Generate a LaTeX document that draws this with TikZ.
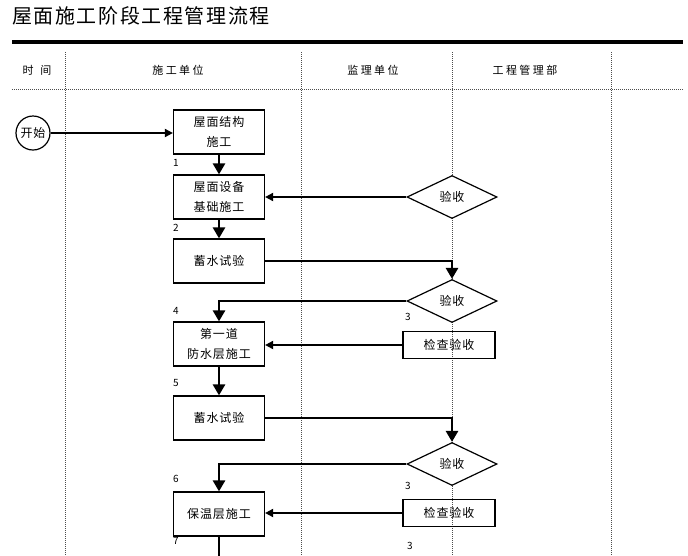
\documentclass[tikz,border=0pt]{standalone}
\usepackage{fontspec}
\setmainfont{Noto Sans CJK SC}
\newfontfamily\spacedfont[LetterSpace=8]{Noto Sans CJK SC}
\newfontfamily\headfont[LetterSpace=22]{Noto Sans CJK SC}
\usetikzlibrary{shapes.geometric, arrows.meta}

\begin{document}
\begin{tikzpicture}[
        x=1pt, y=-1pt,
        every node/.style={font=\spacedfont\fontsize{12}{20}\selectfont},
        box/.style={draw, rectangle, line width=1.2pt, minimum height=44pt, minimum width=91pt, align=center, inner sep=0pt},
        check/.style={draw, rectangle, line width=1.2pt, minimum height=27pt, minimum width=92pt, inner sep=0pt},
        accept/.style={draw, diamond, line width=1.2pt, minimum width=90pt, minimum height=43pt, aspect=2.1, inner sep=0pt, fill=white},
        lane/.style={densely dotted, line width=1pt, gray!60!black},
        num/.style={font=\fontsize{10}{10}\selectfont, inner sep=0pt},
        head/.style={font=\headfont\fontsize{11}{11}\selectfont},
        flow/.style={line width=2.6pt, -{Triangle[length=11pt, width=12pt]}},
        back/.style={line width=1.8pt, -{Triangle[length=8pt, width=8pt]}}
    ]

    \useasboundingbox (0,0) rectangle (688,555);

    % title and header
    \node[anchor=west, inner sep=0pt, font=\spacedfont\fontsize{20}{24}\selectfont] (title) at (12,16) {屋面施工阶段工程管理流程};
    \fill (12,40) rectangle (683,44);
    \draw[lane] (12,89) -- (683,89);
    \foreach \x in {65, 301, 452, 611}
        \draw[lane] (\x,52) -- (\x,555);

    \node[head] (htime) at (37,70) {时\hspace{0.6em}间};
    \node[head] (hbuild) at (178,70) {施工单位};
    \node[head] (hsuper) at (373,70) {监理单位};
    \node[head] (hmanage) at (525,70) {工程管理部};

    % construction lane
    \node[draw, circle, line width=1.2pt, minimum size=34pt, inner sep=0pt] (start) at (33,133) {开始};
    \node[box] (struct) at (219,132) {屋面结构\\施工};
    \node[box] (equip) at (219,197) {屋面设备\\基础施工};
    \node[box] (water1) at (219,261) {蓄水试验};
    \node[box] (layer1) at (219,344) {第一道\\防水层施工};
    \node[box] (water2) at (219,418) {蓄水试验};
    \node[box] (insul) at (219,514) {保温层施工};
    \coordinate (next) at (219,568);

    % supervision lane
    \node[accept] (accept1) at (452,197) {验收};
    \node[accept] (accept2) at (452,301) {验收};
    \node[check] (check1) at (449,345) {检查验收};
    \node[accept] (accept3) at (452,464) {验收};
    \node[check] (check2) at (449,513) {检查验收};

    % step numbers
    \node[num] (n1) at (176,163) {1};
    \node[num] (n2) at (176,228) {2};
    \node[num] (n4) at (176,311) {4};
    \node[num] (n5) at (176,383) {5};
    \node[num] (n6) at (176,479) {6};
    \node[num] (n7) at (176,541) {7};
    \node[num] (n3a) at (408,317) {3};
    \node[num] (n3b) at (408,486) {3};
    \node[num] (n3c) at (410,546) {3};

    \draw[back] (start.east) -- (struct.west |- start.east);
    \draw[flow] (struct.south) -- (equip.north);
    \draw[back] (accept1.west) -- (equip.east);
    \draw[flow] (equip.south) -- (water1.north);
    \draw[flow] (water1.east) -| (accept2.north);
    \draw[flow] (accept2.west) -| (layer1.north);
    \draw[back] (check1.west) -- (layer1.east |- check1.west);
    \draw[flow] (layer1.south) -- (water2.north);
    \draw[flow] (water2.east) -| (accept3.north);
    \draw[flow] (accept3.west) -| (insul.north);
    \draw[back] (check2.west) -- (insul.east |- check2.west);
    \draw[flow] (insul.south) -- (next);

\end{tikzpicture}
\end{document}
